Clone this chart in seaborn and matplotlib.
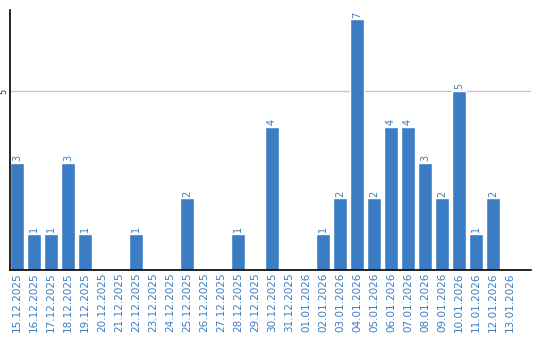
import matplotlib
matplotlib.use("Agg")
import matplotlib.pyplot as plt
import seaborn as sns
import pandas as pd

dates = ["15.12.2025", "16.12.2025", "17.12.2025", "18.12.2025", "19.12.2025",
         "20.12.2025", "21.12.2025", "22.12.2025", "23.12.2025", "24.12.2025",
         "25.12.2025", "26.12.2025", "27.12.2025", "28.12.2025", "29.12.2025",
         "30.12.2025", "31.12.2025", "01.01.2026", "02.01.2026", "03.01.2026",
         "04.01.2026", "05.01.2026", "06.01.2026", "07.01.2026", "08.01.2026",
         "09.01.2026", "10.01.2026", "11.01.2026", "12.01.2026", "13.01.2026"]
counts = [3, 1, 1, 3, 1, 0, 0, 1, 0, 0, 2, 0, 0, 1, 0, 4, 0, 0, 1, 2,
          7, 2, 4, 4, 3, 2, 5, 1, 2, 0]

df = pd.DataFrame({"date": dates, "count": counts})

sns.set_style("white")
plt.rcParams["font.family"] = ["DejaVu Sans"]

bar_color = "#3b7dc4"
fig = plt.figure(figsize=(5.4, 3.4), dpi=100)
ax = fig.add_axes([10 / 540, 70 / 340, 521 / 540, 260 / 340])

sns.barplot(data=df, x="date", y="count", color=bar_color, saturation=1,
            width=0.82, ax=ax, zorder=3)

for i, v in enumerate(counts):
    if v > 0:
        ax.text(i, v + 0.05, str(v), rotation=90, ha="center", va="bottom",
                color=bar_color, fontsize=7)

ax.set_xlim(-0.41, -0.41 + 521 / 17)
ax.set_ylim(0, 7.26)
ax.set_yticks([5])
ax.set_yticklabels(["5"], rotation=90, va="center", fontsize=6)
ax.tick_params(axis="y", length=0, pad=1)
ax.axhline(5, color="#c8c8c8", lw=1, zorder=1)
ax.set_xticks(range(len(dates)))
ax.set_xticklabels(dates, rotation=90, color=bar_color, fontsize=7.5)
ax.tick_params(axis="x", length=0, pad=2)
ax.set_xlabel("")
ax.set_ylabel("")
for s in ["top", "right"]:
    ax.spines[s].set_visible(False)
for s in ["left", "bottom"]:
    ax.spines[s].set_color("black")
    ax.spines[s].set_linewidth(1.2)
    ax.spines[s].set_zorder(4)

fig.savefig("out.png", dpi=100)
